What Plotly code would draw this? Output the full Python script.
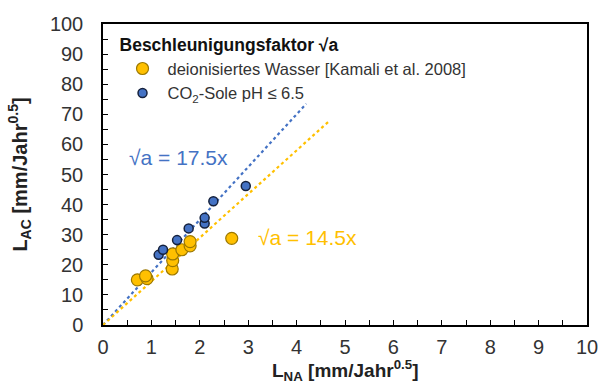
import plotly.graph_objects as go

# Data
x_di = [0.71, 0.91, 0.88, 1.43, 1.44, 1.44, 1.63, 1.80, 1.80, 2.66]
y_di = [15.0, 15.4, 16.3, 18.6, 21.4, 23.6, 25.0, 26.3, 27.7, 28.8]
x_co2 = [1.15, 1.24, 1.53, 1.77, 2.10, 2.10, 2.28, 2.95]
y_co2 = [23.3, 25.0, 28.2, 32.1, 33.7, 35.6, 41.1, 46.2]
slope_co2 = 17.5
slope_di = 14.5
fit_x_co2 = [0, 4.2]
fit_x_di = [0, 4.67]
x_ticks = list(range(0, 11))
y_ticks = list(range(0, 101, 10))

BLUE = "#4472C4"
ORANGE = "#FFC000"
FONT = "Liberation Sans, Arial, sans-serif"
TXT = "#333333"

fig = go.Figure()
fig.add_trace(go.Scatter(x=fit_x_co2, y=[slope_co2 * v for v in fit_x_co2], mode="lines",
                         line=dict(color=BLUE, width=2.2, dash="dot"), showlegend=False,
                         hoverinfo="skip"))
fig.add_trace(go.Scatter(x=fit_x_di, y=[slope_di * v for v in fit_x_di], mode="lines",
                         line=dict(color=ORANGE, width=2.2, dash="dot"), showlegend=False,
                         hoverinfo="skip"))
fig.add_trace(go.Scatter(x=x_di, y=y_di, mode="markers",
                         name="deionisiertes Wasser [Kamali et al. 2008]",
                         marker=dict(color=ORANGE, size=12, line=dict(color="#9C7800", width=1.2))))
fig.add_trace(go.Scatter(x=x_co2, y=y_co2, mode="markers",
                         name="CO<sub>2</sub>-Sole pH ≤ 6.5",
                         marker=dict(color=BLUE, size=9, line=dict(color="#15213d", width=1.5))))

fig.add_annotation(x=0.5, y=55.5, text="√a = 17.5x", showarrow=False, xanchor="left",
                   font=dict(size=21, color=BLUE, family=FONT))
fig.add_annotation(x=3.17, y=29, text="√a = 14.5x", showarrow=False, xanchor="left",
                   font=dict(size=21, color=ORANGE, family=FONT))
# x-axis title
fig.add_annotation(x=0.5, y=-0.15, xref="paper", yref="paper", showarrow=False,
                   xanchor="center", yanchor="middle",
                   text="<b>L<sub>NA</sub> [mm/Jahr<sup>0.5</sup>]</b>",
                   font=dict(size=19, color="#222", family=FONT))

axis_common = dict(showline=True, linecolor="black", linewidth=1.5, mirror=True,
                   ticks="inside", ticklen=5, tickcolor="black", showgrid=False,
                   zeroline=False, automargin=False,
                   tickfont=dict(size=20, color=TXT, family=FONT))
fig.update_xaxes(range=[0, 10], tickvals=x_ticks, ticklabelstandoff=3,
                 minor=dict(ticks="inside", ticklen=5, tickcolor="black", dtick=0.5),
                 **axis_common)
fig.update_yaxes(range=[0, 100], tickvals=y_ticks, ticklabelstandoff=14,
                 minor=dict(ticks="inside", ticklen=5, tickcolor="black", dtick=5),
                 title=dict(text="<b>L<sub>AC</sub> [mm/Jahr<sup>0.5</sup>]</b>",
                            font=dict(size=20, color="#222", family=FONT), standoff=17),
                 **axis_common)

fig.update_layout(
    width=602, height=383,
    margin=dict(l=103, r=15, t=24, b=58),
    plot_bgcolor="white", paper_bgcolor="white",
    font=dict(family=FONT, color=TXT),
    legend=dict(x=0.03, y=0.985, xanchor="left", yanchor="top",
                bgcolor="rgba(0,0,0,0)", itemwidth=40,
                title=dict(text="<b>Beschleunigungsfaktor √a</b>", font=dict(size=17.5, color="#111")),
                font=dict(size=16.5, color=TXT), tracegroupgap=0, itemsizing="trace"),
)

fig.write_html("out.html")
